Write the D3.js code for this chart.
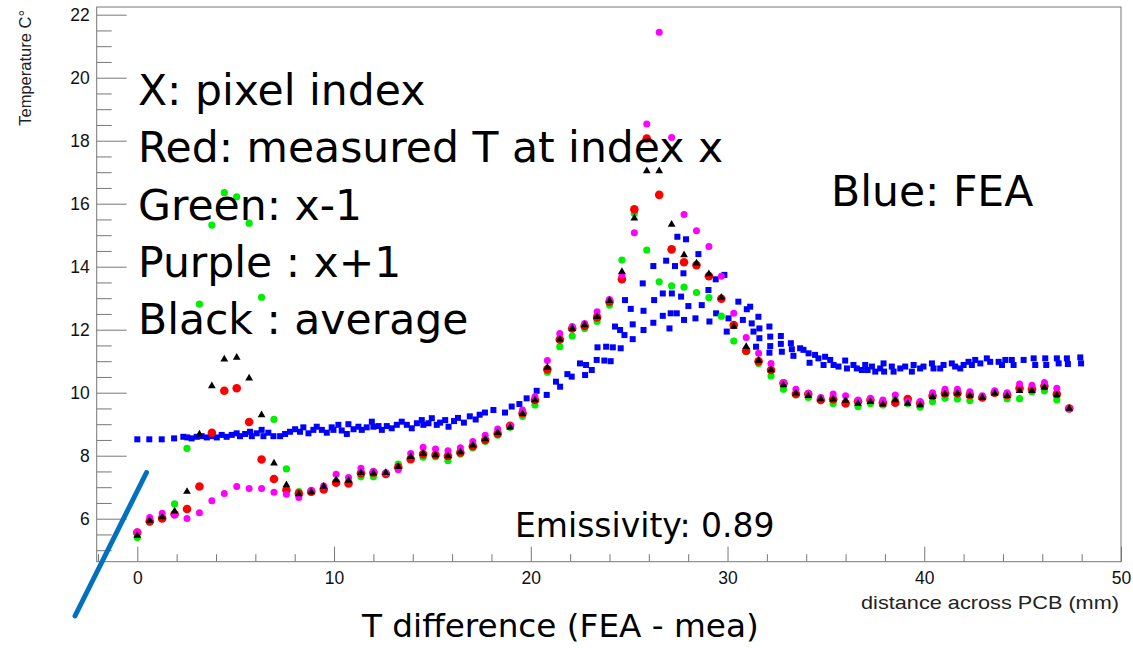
<!DOCTYPE html>
<html>
<head>
<meta charset="utf-8">
<script src="https://cdn.jsdelivr.net/npm/d3@7"></script>
<style>
  body { margin: 0; background: #fff; }
  svg { display: block; }
</style>
</head>
<body>
<script>
const W = 1133, H = 648;

// measured points, one every ~0.632 mm
const step = 0.6316;
const red = [5.56, 5.92, 6.01, 6.14, 6.31, 7.02, 8.73, 10.06, 10.14, 9.07, 7.88, 7.26, 6.91, 6.80, 6.86, 6.93, 7.14, 7.12, 7.44, 7.46,
  7.42, 7.63, 7.89, 8.05, 8.02, 7.99, 8.10, 8.30, 8.50, 8.70, 8.95, 9.35, 9.77, 10.74, 11.69, 12.04, 12.12, 12.39, 12.89, 13.60,
  15.82, 18.07, 16.28, 14.55, 14.14, 14.05, 13.70, 12.98, 12.15, 11.33, 11.00, 10.72, 10.30, 9.96, 9.96, 9.77, 9.79, 9.66, 9.72, 9.77,
  9.68, 9.68, 9.80, 9.66, 9.90, 9.98, 9.98, 9.93, 9.85, 10.00, 9.93, 10.14, 10.11, 10.21, 9.96, 9.50];
const green = [5.40, 5.88, 6.03, 6.47, 8.23, 12.81, 15.32, 16.35, 16.22, 15.38, 13.03, 9.15, 7.58, 6.86, 6.84, 6.96, 7.18, 7.18, 7.33, 7.33,
  7.44, 7.73, 7.92, 7.95, 7.97, 7.84, 8.05, 8.25, 8.45, 8.65, 8.90, 9.25, 9.61, 10.65, 11.46, 11.80, 12.04, 12.26, 12.78, 14.21,
  15.69, 14.53, 13.52, 13.39, 13.35, 13.18, 13.02, 12.43, 11.64, 11.30, 10.93, 10.53, 10.11, 9.93, 9.85, 9.77, 9.66, 9.66, 9.56, 9.66,
  9.61, 9.77, 9.66, 9.54, 9.72, 9.82, 9.80, 9.75, 9.85, 9.98, 9.81, 9.81, 10.03, 10.06, 9.77, 9.50];
const purple = [5.58, 6.04, 6.17, 6.12, 6.01, 6.19, 6.57, 6.80, 7.02, 6.96, 6.96, 6.84, 6.78, 6.67, 6.90, 7.04, 7.41, 7.31, 7.60, 7.51,
  7.46, 7.55, 8.07, 8.27, 8.21, 8.16, 8.25, 8.45, 8.65, 8.85, 8.94, 9.45, 9.87, 11.02, 11.88, 12.10, 12.20, 12.57, 12.96, 13.74,
  15.08, 18.53, 21.44, 18.10, 15.66, 15.14, 14.64, 13.70, 12.52, 11.75, 11.25, 10.93, 10.32, 10.11, 9.98, 9.85, 9.96, 9.90, 9.77, 9.82,
  9.77, 9.93, 9.72, 9.72, 10.00, 10.11, 10.11, 10.03, 9.90, 10.06, 10.00, 10.28, 10.24, 10.32, 10.14, 9.50];
const black = [5.47, 5.94, 6.05, 6.24, 6.86, 8.68, 10.21, 11.06, 11.12, 10.46, 9.29, 7.76, 7.07, 6.78, 6.85, 7.02, 7.23, 7.21, 7.46, 7.44,
  7.46, 7.65, 7.97, 8.07, 8.02, 7.99, 8.12, 8.33, 8.53, 8.73, 8.90, 9.33, 9.77, 10.80, 11.70, 12.04, 12.15, 12.41, 12.92, 13.84,
  15.54, 17.04, 17.04, 15.34, 14.37, 14.11, 13.77, 13.02, 12.10, 11.46, 11.02, 10.72, 10.24, 9.98, 9.90, 9.80, 9.79, 9.75, 9.66, 9.71,
  9.63, 9.77, 9.66, 9.61, 9.87, 9.96, 9.98, 9.91, 9.85, 9.98, 9.90, 10.06, 10.06, 10.17, 9.93, 9.50];

// FEA points
const feaX = [0.00, 0.61, 1.24, 1.87, 2.34, 2.54, 2.76, 3.02, 3.27, 3.53, 3.78, 4.04, 4.29, 4.54, 4.80, 5.05, 5.22, 5.48, 5.73, 5.82,
  6.07, 6.32, 6.41, 6.66, 6.92, 7.26, 7.51, 7.76, 8.02, 8.27, 8.44, 8.70, 8.95, 9.12, 9.38, 9.63, 9.88, 9.97, 10.22, 10.39,
  10.65, 10.73, 10.99, 11.24, 11.41, 11.66, 11.92, 12.00, 12.26, 12.43, 12.68, 12.93, 13.19, 13.44, 13.70, 13.95, 14.21, 14.46, 14.54, 14.80,
  14.97, 15.22, 15.39, 15.65, 15.82, 16.10, 16.30, 16.60, 16.90, 17.20, 17.40,
  17.67, 18.10, 18.69, 19.03, 19.42, 19.79, 20.30, 20.81, 21.28, 21.49, 21.86, 22.08, 22.50, 22.76, 22.81, 23.10, 23.35, 23.39, 23.74, 23.83,
  24.06, 24.17, 24.28, 24.54, 24.57, 24.76, 24.79, 25.08, 25.18, 25.18, 25.69, 25.73, 25.73, 26.23, 26.23, 26.27, 26.71, 26.71, 26.88, 27.05,
  27.11, 27.17, 27.33, 27.42, 27.45, 27.64, 27.76, 27.79, 27.89, 28.01, 28.37, 28.52, 28.69, 29.03, 29.08, 29.40, 29.42, 29.84, 29.96, 30.05,
  30.55, 30.78, 30.98,
  31.15, 31.23, 31.32, 31.45, 31.57, 31.62, 31.62, 32.13, 32.13, 32.17, 32.17, 32.71, 32.71, 32.76, 33.22, 33.27, 33.35, 33.69, 33.86, 34.12,
  34.17, 34.45, 34.62, 34.88, 34.96, 35.22, 35.39, 35.64, 35.98, 36.07, 36.40, 36.57, 36.83, 37.00, 37.12, 37.34, 37.51, 37.76, 37.93, 37.96,
  38.35, 38.44, 38.78, 39.03, 39.37, 39.46, 39.79, 39.96, 40.39, 40.47, 40.81, 40.98, 41.40, 41.57, 41.83, 42.00, 42.25, 42.42, 42.59, 42.85,
  43.18, 43.35, 43.78, 43.95, 44.12, 44.45, 44.54, 45.05, 45.56, 45.64, 46.15, 46.20, 46.74, 46.83, 47.25, 47.30, 47.93, 47.97];
const feaY = [8.52, 8.52, 8.52, 8.55, 8.60, 8.58, 8.55, 8.60, 8.62, 8.58, 8.62, 8.58, 8.66, 8.60, 8.66, 8.71, 8.62, 8.69, 8.76, 8.62,
  8.71, 8.82, 8.62, 8.73, 8.62, 8.62, 8.69, 8.76, 8.84, 8.76, 8.90, 8.71, 8.82, 8.92, 8.82, 8.73, 8.90, 8.82, 8.98, 8.80,
  8.69, 9.00, 8.84, 8.92, 8.82, 8.90, 9.08, 8.92, 8.94, 8.82, 8.94, 8.87, 8.98, 9.08, 8.98, 8.87, 9.03, 9.13, 8.98, 9.03,
  9.19, 8.98, 9.05, 9.13, 8.92, 9.10, 9.20, 9.05, 9.25, 9.15, 9.30,
  9.37, 9.45, 9.37, 9.56, 9.64, 9.82, 10.06, 9.93, 10.35, 10.19, 10.59, 10.51, 10.93, 10.56, 10.88, 10.72, 11.04, 11.44, 11.02, 11.46,
  11.00, 11.44, 12.10, 11.99, 11.41, 11.83, 12.94, 12.66, 12.17, 11.70, 13.47, 12.60, 11.99, 14.02, 12.22, 12.94, 13.15, 12.44, 14.19, 12.04,
  12.52, 13.15, 14.02, 12.52, 14.95, 13.05, 13.79, 12.31, 14.87, 12.75, 12.36, 14.40, 12.78, 13.26, 12.26, 13.60, 12.52, 13.74, 11.94, 12.36,
  12.89, 12.31, 12.65,
  12.73, 12.20, 11.94, 11.46, 12.41, 12.04, 11.73, 12.10, 11.27, 11.78, 11.48, 11.80, 11.55, 11.30, 11.57, 11.38, 11.17, 11.41, 11.36, 11.25,
  10.95, 11.20, 11.09, 10.88, 11.14, 11.04, 10.88, 10.83, 11.02, 10.77, 10.88, 10.77, 10.72, 10.88, 10.72, 10.83, 10.67, 10.77, 10.93, 10.67,
  10.83, 10.67, 10.77, 10.83, 10.67, 10.88, 10.77, 10.83, 10.93, 10.77, 10.77, 10.88, 10.93, 10.83, 10.77, 10.88, 10.98, 10.88, 11.04, 10.93,
  11.09, 10.98, 10.98, 10.88, 11.04, 11.04, 10.88, 11.04, 11.09, 10.88, 11.09, 10.88, 11.09, 10.93, 11.09, 10.91, 11.12, 10.93];

const xMajor = [0, 10, 20, 30, 40, 50];
const yMajor = [6, 8, 10, 12, 14, 16, 18, 20, 22];

const notes = ["X: pixel index", "Red: measured T at index x", "Green: x-1", "Purple : x+1", "Black : average"];

const svg = d3.select("body").append("svg")
  .attr("width", W).attr("height", H)
  .style("font-family", "'Liberation Sans', Arial, sans-serif");

svg.append("rect").attr("width", W).attr("height", H).attr("fill", "#fff");

const x = d3.scaleLinear().domain([-2.064, 50]).range([96.7, 1121]);
const y = d3.scaleLinear().domain([4.635, 22.244]).range([561.7, 7]);

const plot = svg.append("g");

// axes (ROOT style: ticks point inside the frame)
const yMinor = d3.range(5, 22.01, 0.5).filter(v => v % 2 !== 0);
const xMinor = d3.range(-2, 50.01, 2).filter(v => v % 10 !== 0);

const gy = plot.append("g").attr("transform", `translate(${x.range()[0]},0)`);
gy.call(d3.axisLeft(y).tickValues(yMajor).tickSize(-30).tickPadding(7).tickFormat(d3.format("d")));
gy.append("g").call(d3.axisLeft(y).tickValues(yMinor).tickSize(-15).tickFormat(""));

const gx = plot.append("g").attr("transform", `translate(0,${y.range()[0]})`);
gx.call(d3.axisBottom(x).tickValues(xMajor).tickSize(-15).tickPadding(10).tickFormat(d3.format("d")));
gx.append("g").call(d3.axisBottom(x).tickValues(xMinor).tickSize(-7.5).tickFormat(""));

plot.selectAll(".domain").remove();
plot.selectAll(".tick line").attr("stroke", "#777");
plot.selectAll(".tick text").attr("font-size", 17.5).attr("fill", "#111")
  .attr("font-family", "'Liberation Sans', Arial, sans-serif");

plot.append("rect")
  .attr("x", x.range()[0]).attr("y", y.range()[1])
  .attr("width", x.range()[1] - x.range()[0])
  .attr("height", y.range()[0] - y.range()[1])
  .attr("fill", "none").attr("stroke", "#777");

svg.append("text")
  .attr("transform", "translate(31,10) rotate(-90)")
  .attr("text-anchor", "end")
  .attr("font-size", 16.5).attr("fill", "#222")
  .text("Temperature C°");

svg.append("text")
  .attr("x", 1119).attr("y", 609)
  .attr("text-anchor", "end")
  .attr("font-size", 19).attr("fill", "#222")
  .attr("textLength", 258).attr("lengthAdjust", "spacingAndGlyphs")
  .text("distance across PCB (mm)");

// markers
const fea = feaX.map((v, i) => [v, feaY[i]]);
plot.append("g").selectAll("rect").data(fea).join("rect")
  .attr("x", d => x(d[0]) - 3).attr("y", d => y(d[1]) - 3)
  .attr("width", 6).attr("height", 6).attr("fill", "#0000ff");

function dots(vals, color, r) {
  plot.append("g").selectAll("circle").data(vals).join("circle")
    .attr("cx", (d, i) => x(i * step)).attr("cy", d => y(d))
    .attr("r", r).attr("fill", color);
}
dots(green, "#00ee00", 3.6);
dots(red, "#ff0000", 4.3);
dots(purple, "#ff00ff", 3.5);

const tri = d3.symbol().type(d3.symbolTriangle).size(26);
plot.append("g").selectAll("path").data(black).join("path")
  .attr("transform", (d, i) => `translate(${x(i * step)},${y(d)})`)
  .attr("d", tri).attr("fill", "#000");

// slide annotations
const ann = svg.append("g").attr("font-family", "'DejaVu Sans', sans-serif").attr("fill", "#000");
ann.selectAll("text.note").data(notes).join("text")
  .attr("class", "note")
  .attr("x", 138).attr("y", (d, i) => 105 + i * 57.3)
  .attr("font-size", 42.5)
  .text(d => d);
ann.append("text").attr("x", 831).attr("y", 206).attr("font-size", 42.5).text("Blue: FEA");
ann.append("text").attr("x", 515).attr("y", 537).attr("font-size", 33).text("Emissivity: 0.89");
ann.append("text").attr("x", 362).attr("y", 637).attr("font-size", 32.7).text("T difference (FEA - mea)");

svg.append("line")
  .attr("x1", 146.5).attr("y1", 472.5).attr("x2", 75).attr("y2", 616)
  .attr("stroke", "#0070c0").attr("stroke-width", 5).attr("stroke-linecap", "round");
</script>
</body>
</html>
